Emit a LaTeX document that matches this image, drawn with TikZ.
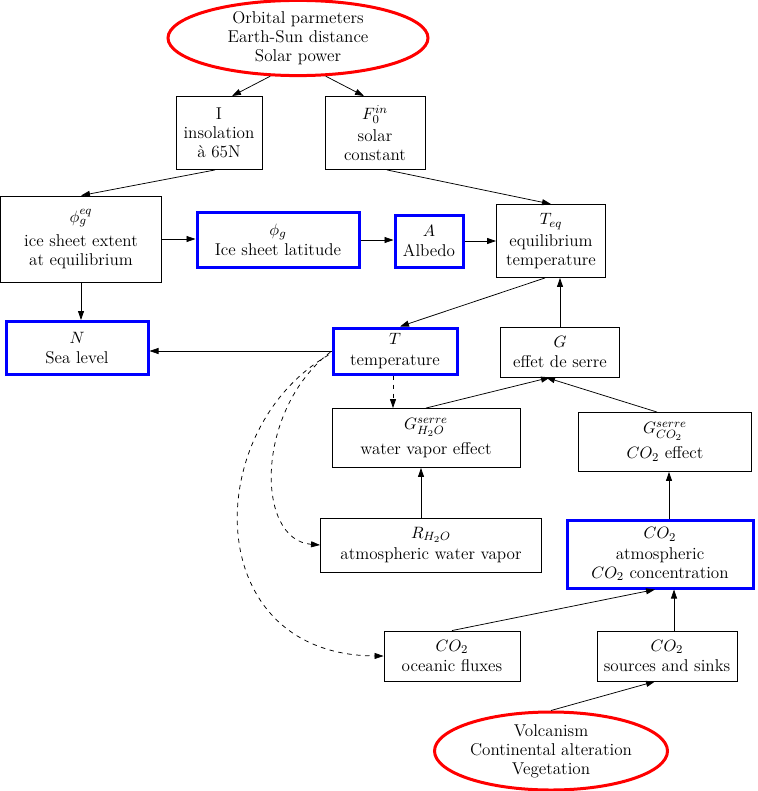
\documentclass[tikz,border=0pt]{standalone}
\usepackage{fontspec}
\usepackage{amsmath}
\usetikzlibrary{arrows.meta, shapes.geometric, calc}

\begin{document}
\begin{tikzpicture}[
    x=0.6667pt, y=-0.6667pt,
    every node/.style={font=\fontsize{11.4}{12.6}\selectfont},
    sz/.style 2 args={minimum width=#1*0.6667pt, minimum height=#2*0.6667pt},
    box/.style={draw, line width=0.6pt, align=center, inner sep=1pt},
    bluebox/.style={box, draw=blue, line width=2pt},
    oval/.style={ellipse, draw=red, line width=2pt, align=center, inner sep=0pt},
    link/.style={line width=0.5pt, -{Triangle[length=6pt,width=4pt]}},
    dlink/.style={link, dashed}
]
\useasboundingbox (0,0) rectangle (757,791);
% sources
\node[oval, sz={260}{65}] (orb) at (298,38) {Orbital parmeters\\Earth-Sun distance\\Solar power};
\node[oval, sz={233}{78}] (vol) at (551,751) {Volcanism\\Continental alteration\\Vegetation};
% upper part
\node[box, sz={86}{73}]     (ins)   at (219,133) {I\\insolation\\à 65N};
\node[box, sz={100}{73}]    (solc)  at (375,133) {$F_0^{in}$\\[2pt]solar\\constant};
\node[box, sz={161}{86}]    (phieq) at (81,239)  {$\phi_g^{eq}$\\[3pt]ice sheet extent\\at equilibrium};
\node[bluebox, sz={162}{55}] (phig) at (278,240) {$\phi_g$\\[1pt]Ice sheet latitude};
\node[bluebox, sz={68}{52}] (alb)   at (429,241) {$A$\\[1pt]Albedo};
\node[box, sz={109}{73}]    (teq)   at (551,241) {$T_{eq}$\\[2pt]equilibrium\\temperature};
% middle part
\node[bluebox, sz={142}{53}] (sea)  at (77,348)  {$N$\\[1pt]Sea level};
\node[bluebox, sz={124}{46}] (temp) at (395,351) {$T$\\[1pt]temperature};
\node[box, sz={119}{50}]    (gre)   at (560,352) {$G$\\[1pt]effet de serre};
\node[box, sz={188}{59}]    (gwat)  at (426,438) {$G^{serre}_{H_2O}$\\[4pt]water vapor effect};
\node[box, sz={173}{59}]    (gcar)  at (665,442) {$G^{serre}_{CO_2}$\\[4pt]$CO_2$ effect};
\node[box, sz={221}{54}]    (rwat)  at (431,545) {$R_{H_2O}$\\[2pt]atmospheric water vapor};
\node[bluebox, sz={186}{68}] (catm) at (660,554) {$CO_2$\\[1pt]atmospheric\\$CO_2$ concentration};
\node[box, sz={136}{50}]    (cocn)  at (452,656) {$CO_2$\\[1pt]oceanic fluxes};
\node[box, sz={140}{50}]    (csrc)  at (667,656) {$CO_2$\\[1pt]sources and sinks};
% link end points
\coordinate (tdown) at ($(temp.south)+(-2,0)$);
\coordinate (rup)   at ($(rwat.north)+(-10,0)$);
\coordinate (cup)   at ($(catm.north)+(9,0)$);
\coordinate (sup)   at ($(csrc.north)+(7,0)$);
% links
\draw[link] (orb.234) -- ($(ins.north)+(13,0)$);
\draw[link] (orb.306) -- ($(solc.north)+(-11,0)$);
\draw[link] ($(ins.south)+(-4,0)$) -- (phieq.north);
\draw[link] ($(solc.south)+(12,0)$) -- (teq.north);
\draw[link] (phieq.east) -- (phieq.east -| phig.west);
\draw[link] (phig.east) -- (phig.east -| alb.west);
\draw[link] (alb.east) -- (alb.east -| teq.west);
\draw[link] (phieq.south) -- (phieq.south |- sea.north);
\draw[link] ($(teq.south)+(-6,0)$) -- ($(temp.north)+(5,0)$);
\draw[link] (temp.west) -- (temp.west -| sea.east);
\draw[link] (gre.north) -- (gre.north |- teq.south);
\draw[dlink] (tdown) -- (tdown |- gwat.north);
\draw[link] (gwat.north) -- ($(gre.south)+(-10,0)$);
\draw[link] ($(gcar.north)+(-8,0)$) -- ($(gre.south)+(-14,0)$);
\draw[link] (rup) -- (rup |- gwat.south);
\draw[link] (cup) -- (cup |- gcar.south);
\draw[link] (cocn.north) -- ($(catm.south)+(-5,0)$);
\draw[link] (sup) -- (sup |- catm.south);
\draw[link] (vol.north) -- ($(csrc.south)+(-12,0)$);
\draw[dlink] ($(temp.west)+(-1,1)$) .. controls (255,410) and (255,540) .. (rwat.west);
\draw[dlink] ($(temp.west)+(-3,4)$) .. controls (200,430) and (200,655) .. (cocn.west);
\end{tikzpicture}
\end{document}
